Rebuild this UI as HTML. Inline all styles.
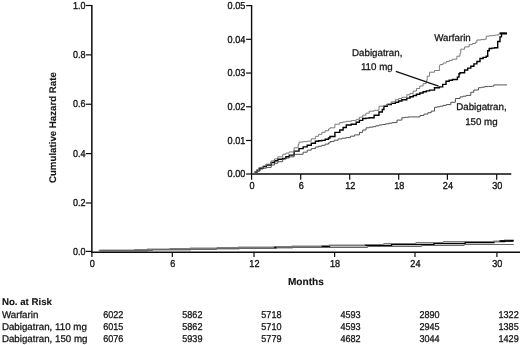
<!DOCTYPE html><html><head><meta charset="utf-8"><title>Cumulative Hazard Rate</title><style>html,body{margin:0;padding:0;background:#fff}svg{display:block}</style></head><body><svg width="520" height="345" viewBox="0 0 520 345">
<rect width="520" height="345" fill="#fff"/>
<g font-family="'Liberation Sans', sans-serif" font-size="9.75" fill="#141414" stroke="#141414" text-rendering="geometricPrecision">
<g stroke="#0c0c0c" fill="none">
<path d="M91.85,5 V252.2" stroke-width="1.5"/><path d="M91.1,252.2 H520" stroke-width="1.55"/>
</g><g stroke="#0c0c0c" stroke-width="1.2" fill="none">
<path d="M85.8,5.50 H91.9"/>
<path d="M85.8,54.87 H91.9"/>
<path d="M85.8,104.24 H91.9"/>
<path d="M85.8,153.61 H91.9"/>
<path d="M85.8,202.98 H91.9"/>
<path d="M85.8,251.40 H91.9"/>
<path d="M91.90,252.2 V257"/>
<path d="M172.30,252.2 V257"/>
<path d="M254.00,252.2 V257"/>
<path d="M334.60,252.2 V257"/>
<path d="M415.00,252.2 V257"/>
<path d="M496.90,252.2 V257"/>
</g>
<text transform="translate(85.50,8.60) scale(0.890,1)" text-anchor="end" font-size="10.1" stroke-width="0.35">1.0</text>
<text transform="translate(85.50,57.97) scale(0.890,1)" text-anchor="end" font-size="10.1" stroke-width="0.35">0.8</text>
<text transform="translate(85.50,107.34) scale(0.890,1)" text-anchor="end" font-size="10.1" stroke-width="0.35">0.6</text>
<text transform="translate(85.50,156.71) scale(0.890,1)" text-anchor="end" font-size="10.1" stroke-width="0.35">0.4</text>
<text transform="translate(85.50,206.08) scale(0.890,1)" text-anchor="end" font-size="10.1" stroke-width="0.35">0.2</text>
<text transform="translate(85.50,254.50) scale(0.890,1)" text-anchor="end" font-size="10.1" stroke-width="0.35">0.0</text>
<text transform="translate(92.30,266.60) scale(0.900,1)" text-anchor="middle" font-size="10.1" stroke-width="0.35">0</text>
<text transform="translate(172.70,266.60) scale(0.900,1)" text-anchor="middle" font-size="10.1" stroke-width="0.35">6</text>
<text transform="translate(254.40,266.60) scale(0.900,1)" text-anchor="middle" font-size="10.1" stroke-width="0.35">12</text>
<text transform="translate(335.00,266.60) scale(0.900,1)" text-anchor="middle" font-size="10.1" stroke-width="0.35">18</text>
<text transform="translate(415.40,266.60) scale(0.900,1)" text-anchor="middle" font-size="10.1" stroke-width="0.35">24</text>
<text transform="translate(497.30,266.60) scale(0.900,1)" text-anchor="middle" font-size="10.1" stroke-width="0.35">30</text>
<g stroke="#0c0c0c" stroke-width="1.4" fill="none">
<path d="M251.6,5 V174.0 M250.9,174.0 H511.3"/>
</g><g stroke="#0c0c0c" stroke-width="1.2" fill="none">
<path d="M246.1,5.60 H251.6"/>
<path d="M246.1,39.32 H251.6"/>
<path d="M246.1,73.04 H251.6"/>
<path d="M246.1,106.76 H251.6"/>
<path d="M246.1,140.48 H251.6"/>
<path d="M246.1,174.00 H251.6"/>
<path d="M251.60,174.0 V179.8"/>
<path d="M300.70,174.0 V179.8"/>
<path d="M349.70,174.0 V179.8"/>
<path d="M398.70,174.0 V179.8"/>
<path d="M447.40,174.0 V179.8"/>
<path d="M496.70,174.0 V179.8"/>
</g>
<text transform="translate(245.30,8.90) scale(0.900,1)" text-anchor="end" font-size="10.1" stroke-width="0.35">0.05</text>
<text transform="translate(245.30,42.62) scale(0.900,1)" text-anchor="end" font-size="10.1" stroke-width="0.35">0.04</text>
<text transform="translate(245.30,76.34) scale(0.900,1)" text-anchor="end" font-size="10.1" stroke-width="0.35">0.03</text>
<text transform="translate(245.30,110.06) scale(0.900,1)" text-anchor="end" font-size="10.1" stroke-width="0.35">0.02</text>
<text transform="translate(245.30,143.78) scale(0.900,1)" text-anchor="end" font-size="10.1" stroke-width="0.35">0.01</text>
<text transform="translate(245.30,177.30) scale(0.900,1)" text-anchor="end" font-size="10.1" stroke-width="0.35">0.00</text>
<text transform="translate(252.10,188.60) scale(0.900,1)" text-anchor="middle" font-size="10.1" stroke-width="0.35">0</text>
<text transform="translate(301.20,188.60) scale(0.900,1)" text-anchor="middle" font-size="10.1" stroke-width="0.35">6</text>
<text transform="translate(350.20,188.60) scale(0.900,1)" text-anchor="middle" font-size="10.1" stroke-width="0.35">12</text>
<text transform="translate(399.20,188.60) scale(0.900,1)" text-anchor="middle" font-size="10.1" stroke-width="0.35">18</text>
<text transform="translate(447.90,188.60) scale(0.900,1)" text-anchor="middle" font-size="10.1" stroke-width="0.35">24</text>
<text transform="translate(497.20,188.60) scale(0.900,1)" text-anchor="middle" font-size="10.1" stroke-width="0.35">30</text>
<g fill="none" stroke-linejoin="miter">
<path d="M254.5,172.0 L257.1,172.0 L257.1,170.1 L259.8,170.1 L259.8,168.2 L263.1,168.2 L263.1,166.6 L266.3,166.6 L266.3,165.0 L271.2,165.0 L271.2,162.5 L274.5,162.5 L274.5,160.8 L277.8,160.8 L277.8,159.2 L282.7,159.2 L282.7,158.4 L285.9,158.4 L285.9,156.8 L289.2,156.8 L289.2,155.1 L294.1,155.1 L294.1,151.1 L299.0,151.1 L299.0,148.6 L303.1,148.6 L303.1,146.9 L307.2,146.9 L307.2,145.3 L311.3,145.3 L311.3,143.2 L315.4,143.2 L315.4,141.2 L318.6,141.2 L318.6,140.8 L321.9,140.8 L321.9,140.4 L325.2,140.4 L325.2,139.2 L328.5,139.2 L328.5,138.0 L330.0,138.0 L330.0,136.5 L334.9,136.5 L334.9,132.4 L339.8,132.4 L339.8,130.0 L343.1,130.0 L343.1,127.5 L346.3,127.5 L346.3,125.0 L351.2,125.0 L351.2,124.2 L356.2,124.2 L356.2,122.3 L359.4,122.3 L359.4,120.4 L362.7,120.4 L362.7,118.5 L365.9,118.5 L365.9,118.1 L369.2,118.1 L369.2,117.7 L374.1,117.7 L374.1,115.2 L379.0,115.2 L379.0,112.0 L382.3,112.0 L382.3,109.5 L383.9,109.5 L383.9,106.2 L387.2,106.2 L387.2,104.6 L391.3,104.6 L391.3,103.4 L395.4,103.4 L395.4,102.2 L398.6,102.2 L398.6,101.0 L401.9,101.0 L401.9,99.7 L406.8,99.7 L406.8,98.1 L410.0,98.1 L410.0,96.7 L413.2,96.7 L413.2,95.5 L416.5,95.5 L416.5,94.2 L419.8,94.2 L419.8,93.0 L423.1,93.0 L423.1,91.8 L426.4,91.8 L426.4,90.9 L429.6,90.9 L429.6,90.1 L434.5,90.1 L434.5,87.7 L439.4,87.7 L439.4,86.9 L442.7,86.9 L442.7,84.4 L446.0,84.4 L446.0,81.2 L449.2,81.2 L449.2,80.3 L452.5,80.3 L452.5,79.5 L457.4,79.5 L457.4,77.1 L459.0,77.1 L459.0,73.8 L460.0,73.8 L460.0,72.8 L464.6,72.8 L464.6,70.0 L467.7,70.0 L467.7,68.1 L470.8,68.1 L470.8,66.2 L473.9,66.2 L473.9,63.9 L476.9,63.9 L476.9,61.5 L480.0,61.5 L480.0,58.5 L483.1,58.5 L483.1,57.4 L486.2,57.4 L486.2,56.2 L487.7,56.2 L487.7,50.8 L489.2,50.8 L489.2,48.5 L491.9,48.5 L491.9,48.1 L494.6,48.1 L494.6,47.7 L497.7,47.7 L497.7,41.5 L500.0,41.5 L500.0,36.9 L501.5,36.9 L501.5,33.5 L504.2,33.5 L504.2,33.5 L506.9,33.5 L506.9,33.5" stroke="#000" stroke-width="1.4"/>
<path d="M252.2,173.6 L255.0,173.6 L255.0,171.3 L258.5,171.3 L258.5,167.9 L259.8,167.9 L259.8,167.4 L263.1,167.4 L263.1,165.8 L266.3,165.8 L266.3,164.1 L271.2,164.1 L271.2,160.9 L274.5,160.9 L274.5,158.9 L277.8,158.9 L277.8,156.8 L282.7,156.8 L282.7,154.3 L285.9,154.3 L285.9,153.1 L289.2,153.1 L289.2,151.9 L294.1,151.9 L294.1,147.8 L298.2,147.8 L298.2,144.5 L299.0,144.5 L299.0,142.1 L303.1,142.1 L303.1,141.6 L307.2,141.6 L307.2,141.2 L311.3,141.2 L311.3,138.8 L315.4,138.8 L315.4,136.3 L318.6,136.3 L318.6,134.3 L321.9,134.3 L321.9,132.3 L325.2,132.3 L325.2,130.7 L328.5,130.7 L328.5,129.0 L330.0,129.0 L330.0,127.8 L334.9,127.8 L334.9,124.2 L339.8,124.2 L339.8,122.6 L343.1,122.6 L343.1,121.9 L346.3,121.9 L346.3,121.3 L351.2,121.3 L351.2,120.6 L356.2,120.6 L356.2,119.3 L359.4,119.3 L359.4,117.2 L362.7,117.2 L362.7,115.2 L365.9,115.2 L365.9,113.2 L369.2,113.2 L369.2,111.2 L374.1,111.2 L374.1,110.3 L379.0,110.3 L379.0,106.2 L383.9,106.2 L383.9,105.4 L387.2,105.4 L387.2,103.8 L391.3,103.8 L391.3,101.8 L395.4,101.8 L395.4,99.7 L398.6,99.7 L398.6,98.5 L401.9,98.5 L401.9,97.3 L406.8,97.3 L406.8,94.8 L410.0,94.8 L410.0,93.4 L413.2,93.4 L413.2,91.0 L416.5,91.0 L416.5,88.5 L419.8,88.5 L419.8,86.0 L423.1,86.0 L423.1,83.6 L426.3,83.6 L426.3,80.3 L427.2,80.3 L427.2,76.2 L429.6,76.2 L429.6,72.2 L434.5,72.2 L434.5,70.5 L439.4,70.5 L439.4,65.6 L440.0,65.6 L440.0,64.6 L443.1,64.6 L443.1,63.0 L446.2,63.0 L446.2,61.5 L449.2,61.5 L449.2,60.4 L452.3,60.4 L452.3,59.2 L456.9,59.2 L456.9,56.2 L460.0,56.2 L460.0,53.1 L460.8,53.1 L460.8,49.2 L464.6,49.2 L464.6,46.9 L469.2,46.9 L469.2,44.6 L472.3,44.6 L472.3,43.5 L475.4,43.5 L475.4,42.3 L476.9,42.3 L476.9,40.0 L480.8,40.0 L480.8,39.6 L484.6,39.6 L484.6,39.2 L486.2,39.2 L486.2,36.2 L489.2,36.2 L489.2,35.8 L492.3,35.8 L492.3,35.4 L495.4,35.4 L495.4,35.0 L498.5,35.0 L498.5,34.6 L499.2,34.6 L499.2,33.1 L501.9,33.1 L501.9,33.1 L504.6,33.1 L504.6,33.1" stroke="#757575" stroke-width="0.95"/>
<path d="M253.0,173.4 L256.4,173.4 L256.4,171.2 L259.8,171.2 L259.8,169.0 L263.1,169.0 L263.1,168.2 L266.3,168.2 L266.3,167.4 L271.2,167.4 L271.2,165.0 L274.5,165.0 L274.5,163.3 L277.8,163.3 L277.8,161.7 L282.7,161.7 L282.7,159.2 L285.9,159.2 L285.9,158.0 L289.2,158.0 L289.2,156.8 L294.1,156.8 L294.1,154.3 L299.0,154.3 L299.0,154.3 L303.1,154.3 L303.1,152.2 L307.2,152.2 L307.2,150.2 L311.3,150.2 L311.3,148.6 L315.4,148.6 L315.4,147.0 L318.6,147.0 L318.6,146.2 L321.9,146.2 L321.9,145.3 L325.2,145.3 L325.2,144.1 L328.5,144.1 L328.5,142.9 L330.0,142.9 L330.0,141.6 L334.1,141.6 L334.1,140.2 L338.2,140.2 L338.2,138.9 L342.2,138.9 L342.2,138.2 L346.3,138.2 L346.3,137.6 L350.4,137.6 L350.4,136.2 L354.5,136.2 L354.5,134.9 L359.4,134.9 L359.4,132.4 L362.7,132.4 L362.7,130.0 L366.0,130.0 L366.0,127.8 L369.2,127.8 L369.2,127.2 L372.5,127.2 L372.5,126.7 L375.8,126.7 L375.8,125.8 L379.0,125.8 L379.0,125.0 L382.3,125.0 L382.3,124.5 L385.6,124.5 L385.6,123.9 L388.9,123.9 L388.9,123.2 L392.1,123.2 L392.1,122.6 L397.0,122.6 L397.0,120.1 L401.9,120.1 L401.9,117.7 L405.2,117.7 L405.2,117.3 L408.5,117.3 L408.5,116.9 L411.8,116.9 L411.8,116.9 L415.0,116.9 L415.0,116.9 L420.0,116.9 L420.0,115.5 L423.9,115.5 L423.9,114.1 L427.9,114.1 L427.9,112.7 L431.2,112.7 L431.2,111.1 L434.5,111.1 L434.5,107.3 L437.2,107.3 L437.2,106.8 L440.0,106.8 L440.0,106.2 L443.1,106.2 L443.1,105.4 L446.2,105.4 L446.2,104.6 L450.8,104.6 L450.8,102.3 L455.4,102.3 L455.4,98.5 L460.0,98.5 L460.0,96.9 L463.1,96.9 L463.1,96.2 L466.2,96.2 L466.2,95.4 L470.8,95.4 L470.8,92.3 L473.8,92.3 L473.8,90.0 L478.5,90.0 L478.5,87.7 L481.6,87.7 L481.6,87.2 L484.6,87.2 L484.6,86.6 L488.5,86.6 L488.5,86.4 L492.3,86.4 L492.3,86.2 L493.8,86.2 L493.8,84.9 L497.1,84.9 L497.1,84.9 L500.4,84.9 L500.4,84.9 L503.6,84.9 L503.6,84.9 L506.9,84.9 L506.9,84.9" stroke="#505050" stroke-width="1"/>
<path d="M395.8,71.3 L438.6,86.1" stroke="#111" stroke-width="1.3"/>
<path d="M499.8,33.4 H506.9" stroke="#000" stroke-width="1.9"/>
<path d="M99.4,250.5 L147.5,250.5 L147.5,249.5 L190.4,249.5 L190.4,248.5 L238.7,248.5 L238.7,247.5 L292.3,247.5 L292.3,246.5 L329.5,246.5 L329.5,245.5 L391.6,245.5 L391.6,244.5 L434.0,244.5 L434.0,243.5 L465.1,243.5 L465.1,242.5 L493.9,242.5 L493.9,241.5 L504.7,241.5 L504.7,240.5 L513.7,240.5" stroke="#000" stroke-width="1.3"/>
<path d="M98.7,250.5 L134.3,250.5 L134.3,249.5 L169.7,249.5 L169.7,248.5 L217.0,248.5 L217.0,247.5 L274.0,247.5 L274.0,246.5 L321.5,246.5 L321.5,245.5 L364.9,245.5 L364.9,244.5 L383.7,244.5 L383.7,243.5 L415.9,243.5 L415.9,242.5 L443.3,242.5 L443.3,241.5 L500.9,241.5 L500.9,240.5 L509.9,240.5" stroke="#7a7a7a" stroke-width="1"/>
<path d="M101.0,250.5 L152.6,250.5 L152.6,249.5 L216.5,249.5 L216.5,248.5 L276.6,248.5 L276.6,247.5 L367.6,247.5 L367.6,246.5 L421.5,246.5 L421.5,245.5 L464.2,245.5 L464.2,244.5 L513.7,244.5" stroke="#666" stroke-width="1"/>
<path d="M499.5,241 H513.4" stroke="#000" stroke-width="1.6"/>
</g>
<text transform="translate(452.50,40.70)" text-anchor="middle" font-size="9.75" stroke-width="0.28">Warfarin</text>
<text transform="translate(377.20,55.90)" text-anchor="middle" font-size="9.75" stroke-width="0.28">Dabigatran,</text>
<text transform="translate(376.80,70.30)" text-anchor="middle" font-size="9.75" stroke-width="0.28">110 mg</text>
<text transform="translate(481.40,110.30)" text-anchor="middle" font-size="9.75" stroke-width="0.28">Dabigatran,</text>
<text transform="translate(481.40,124.70)" text-anchor="middle" font-size="9.75" stroke-width="0.28">150 mg</text>
<text transform="translate(56.40,127.60) rotate(-90)" text-anchor="middle" font-size="9.7" font-weight="bold" stroke-width="0.1">Cumulative Hazard Rate</text>
<text transform="translate(305.90,285.20)" text-anchor="middle" font-size="10.1" font-weight="bold" stroke-width="0.1">Months</text>
<text transform="translate(1.90,305.10)" text-anchor="start" font-size="9.7" font-weight="bold" stroke-width="0.1">No. at Risk</text>
<text transform="translate(1.90,317.60)" text-anchor="start" font-size="9.75" stroke-width="0.28">Warfarin</text>
<text transform="translate(103.20,317.60) scale(0.920,1)" text-anchor="start" font-size="9.9" stroke-width="0.28">6022</text>
<text transform="translate(182.26,317.60) scale(0.920,1)" text-anchor="start" font-size="9.9" stroke-width="0.28">5862</text>
<text transform="translate(261.32,317.60) scale(0.920,1)" text-anchor="start" font-size="9.9" stroke-width="0.28">5718</text>
<text transform="translate(340.38,317.60) scale(0.920,1)" text-anchor="start" font-size="9.9" stroke-width="0.28">4593</text>
<text transform="translate(419.44,317.60) scale(0.920,1)" text-anchor="start" font-size="9.9" stroke-width="0.28">2890</text>
<text transform="translate(498.50,317.60) scale(0.920,1)" text-anchor="start" font-size="9.9" stroke-width="0.28">1322</text>
<text transform="translate(1.90,329.70)" text-anchor="start" font-size="9.75" stroke-width="0.28">Dabigatran, 110 mg</text>
<text transform="translate(103.20,329.70) scale(0.920,1)" text-anchor="start" font-size="9.9" stroke-width="0.28">6015</text>
<text transform="translate(182.26,329.70) scale(0.920,1)" text-anchor="start" font-size="9.9" stroke-width="0.28">5862</text>
<text transform="translate(261.32,329.70) scale(0.920,1)" text-anchor="start" font-size="9.9" stroke-width="0.28">5710</text>
<text transform="translate(340.38,329.70) scale(0.920,1)" text-anchor="start" font-size="9.9" stroke-width="0.28">4593</text>
<text transform="translate(419.44,329.70) scale(0.920,1)" text-anchor="start" font-size="9.9" stroke-width="0.28">2945</text>
<text transform="translate(498.50,329.70) scale(0.920,1)" text-anchor="start" font-size="9.9" stroke-width="0.28">1385</text>
<text transform="translate(1.90,341.60)" text-anchor="start" font-size="9.75" stroke-width="0.28">Dabigatran, 150 mg</text>
<text transform="translate(103.20,341.60) scale(0.920,1)" text-anchor="start" font-size="9.9" stroke-width="0.28">6076</text>
<text transform="translate(182.26,341.60) scale(0.920,1)" text-anchor="start" font-size="9.9" stroke-width="0.28">5939</text>
<text transform="translate(261.32,341.60) scale(0.920,1)" text-anchor="start" font-size="9.9" stroke-width="0.28">5779</text>
<text transform="translate(340.38,341.60) scale(0.920,1)" text-anchor="start" font-size="9.9" stroke-width="0.28">4682</text>
<text transform="translate(419.44,341.60) scale(0.920,1)" text-anchor="start" font-size="9.9" stroke-width="0.28">3044</text>
<text transform="translate(498.50,341.60) scale(0.920,1)" text-anchor="start" font-size="9.9" stroke-width="0.28">1429</text>
</g></svg></body></html>
